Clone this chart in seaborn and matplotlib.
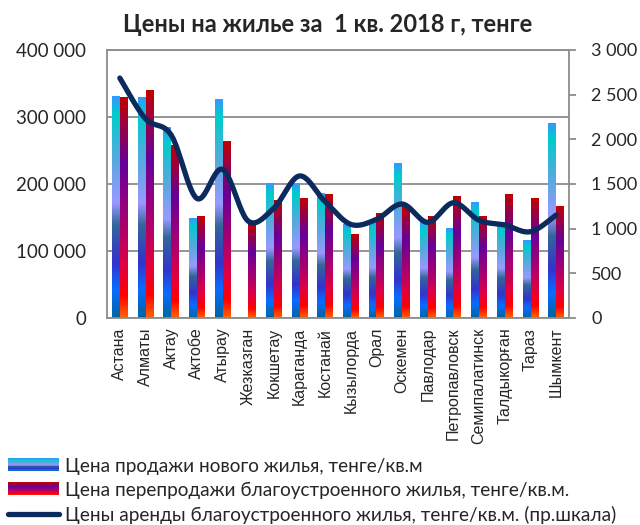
import numpy as np
import pandas as pd
import matplotlib
matplotlib.use("Agg")
import matplotlib.pyplot as plt
import seaborn as sns
from matplotlib.colors import LinearSegmentedColormap, to_rgba
from matplotlib.legend_handler import HandlerBase
from matplotlib.patches import Rectangle, Patch
from matplotlib.lines import Line2D
from matplotlib.ticker import FuncFormatter, MultipleLocator

# ==========================================
# DATA
# ==========================================
cities = ['Астана', 'Алматы', 'Актау', 'Актобе', 'Атырау', 'Жезказган', 'Кокшетау',
          'Караганда', 'Костанай', 'Кызылорда', 'Орал', 'Оскемен', 'Павлодар',
          'Петропавловск', 'Семипалатинск', 'Талдыкорған', 'Тараз', 'Шымкент']
new_price = [331000, 329000, 285000, 149000, 326000, 0, 200000, 201000, 186000,
             140000, 144000, 231000, 143000, 134000, 173000, 142000, 116000, 291000]
resale_price = [329000, 340000, 257000, 152000, 263000, 141000, 176000, 179000, 184000,
                124000, 156000, 166000, 152000, 182000, 151000, 185000, 179000, 166000]
rent_price = [2686, 2230, 2048, 1339, 1664, 1085, 1230, 1590, 1302,
              1048, 1104, 1276, 1071, 1290, 1093, 1041, 966, 1153]

label_new = 'Цена продажи нового жилья, тенге/кв.м'
label_resale = 'Цена перепродажи благоустроенного жилья, тенге/кв.м.'
label_rent = 'Цены аренды благоустроенного жилья, тенге/кв.м. (пр.шкала)'
title = 'Цены на жилье за  1 кв. 2018 г, тенге'

# ==========================================
# STYLE
# ==========================================
sns.set_style('white')
plt.rcParams['font.family'] = ['Lato', 'DejaVu Sans']

GRID = '#8C8C8C'
NAVY = '#0B2A5E'
blue_stops = [(0.0, '#3399FF'), (0.08, '#00CCCC'), (0.28, '#55AADD'), (0.48, '#9999FF'),
              (0.58, '#336699'), (0.75, '#3333CC'), (0.87, '#0A6CFF'), (1.0, '#0064A0')]
red_stops = [(0.0, '#C00000'), (0.3, '#660099'), (0.6, '#B0006A'), (0.76, '#E00040'),
             (0.9, '#FF0000'), (1.0, '#FF6600')]
cmap_blue = LinearSegmentedColormap.from_list('b', blue_stops)
cmap_red = LinearSegmentedColormap.from_list('r', red_stops)


def smooth_curve(xs, ys, n=24):
    """Excel-like smoothed line (cubic Bezier through the points)."""
    pts = np.column_stack([xs, ys]).astype(float)
    P = np.vstack([pts[0], pts, pts[-1]])
    t = np.linspace(0, 1, n, endpoint=False)[:, None]
    out = []
    for i in range(1, len(P) - 2):
        p0, p1, p2, p3 = P[i - 1], P[i], P[i + 1], P[i + 2]
        c1 = p1 + (p2 - p0) / 6
        c2 = p2 - (p3 - p1) / 6
        out.append((1 - t) ** 3 * p1 + 3 * (1 - t) ** 2 * t * c1
                   + 3 * (1 - t) * t ** 2 * c2 + t ** 3 * p2)
    out.append(pts[-1:])
    return np.vstack(out)


class GradientHandler(HandlerBase):
    def __init__(self, cmap):
        super().__init__()
        self.cmap = cmap

    def create_artists(self, legend, orig_handle, xdescent, ydescent, width,
                       height, fontsize, trans):
        n = 30
        arts = []
        for i in range(n):
            arts.append(Rectangle((-xdescent, -ydescent + height * i / n), width,
                                  height / n + 0.3, facecolor=self.cmap(1 - (i + 0.5) / n),
                                  edgecolor='none', transform=trans))
        return arts


# ==========================================
# PLOT
# ==========================================
df = pd.DataFrame({
    'city': cities * 2,
    'value': new_price + resale_price,
    'series': [label_new] * len(cities) + [label_resale] * len(cities),
})

fig = plt.figure(figsize=(6.4, 5.25), dpi=100)
ax = fig.add_axes([107 / 640, 1 - 318 / 525, 462 / 640, 268 / 525])

palette = {label_new: '#0000FF', label_resale: '#FF0000'}
sns.barplot(data=df, x='city', y='value', hue='series', palette=palette,
            width=0.62, dodge=True, ax=ax, legend=False, saturation=1)

blue_rgba = to_rgba('#0000FF')
grad = np.linspace(1, 0, 256).reshape(-1, 1)
for p in list(ax.patches):
    x0, w, h = p.get_x(), p.get_width(), p.get_height()
    if h <= 0:
        p.set_visible(False)
        continue
    cm = cmap_blue if np.allclose(p.get_facecolor(), blue_rgba) else cmap_red
    ax.imshow(grad, cmap=cm, extent=[x0, x0 + w, 0, h], aspect='auto',
              origin='lower', zorder=2, interpolation='bilinear')
    p.set_visible(False)

ax.set_xlim(-0.5, len(cities) - 0.5)
ax.set_ylim(0, 400000)
ax.yaxis.set_major_locator(MultipleLocator(100000))
ax.yaxis.set_major_formatter(FuncFormatter(lambda v, _: f'{int(v):,}'.replace(',', ' ')))
ax.grid(axis='y', color=GRID, lw=1.3)
ax.set_axisbelow(True)
ax.set_xlabel('')
ax.set_ylabel('')
ax.tick_params(axis='y', length=0, pad=15, labelsize=13.5)
ax.tick_params(axis='x', length=0, pad=7)
for lbl in ax.get_xticklabels():
    lbl.set_rotation(90)
    lbl.set_fontfamily('Liberation Sans')
    lbl.set_fontsize(11.5)
for side in ['left', 'bottom', 'top']:
    ax.spines[side].set_color(GRID)
    ax.spines[side].set_linewidth(1.3)
ax.spines['right'].set_visible(False)

ax2 = ax.twinx()
curve = smooth_curve(np.arange(len(cities)), rent_price)
ax2.plot(curve[:, 0], curve[:, 1], color=NAVY, lw=3.8, solid_capstyle='round',
         solid_joinstyle='round', zorder=5)
ax2.set_ylim(0, 3000)
ax2.yaxis.set_major_locator(MultipleLocator(500))
ax2.yaxis.set_major_formatter(FuncFormatter(lambda v, _: f'{int(v):,}'.replace(',', ' ')))
ax2.tick_params(axis='y', direction='out', length=5, width=1.3, color=GRID,
                pad=11, labelsize=13)
for side in ['left', 'bottom', 'top']:
    ax2.spines[side].set_visible(False)
ax2.spines['right'].set_color(GRID)
ax2.spines['right'].set_linewidth(1.3)
ax2.grid(False)

fig.text(0.512, 1 - 24 / 525, title, ha='center', va='center',
         fontsize=17, fontweight='bold')

h_new = Patch(label=label_new)
h_resale = Patch(label=label_resale)
h_rent = Line2D([], [], color=NAVY, lw=3.8, solid_capstyle='round', label=label_rent)
fig.legend(handles=[h_new, h_resale, h_rent], loc='upper left',
           bbox_to_anchor=(4 / 640, 1 - 454 / 525), frameon=False, fontsize=13.7,
           handlelength=2.7, handleheight=0.65, handletextpad=0.3, labelspacing=0.36,
           borderaxespad=0, borderpad=0.2,
           handler_map={h_new: GradientHandler(cmap_blue),
                        h_resale: GradientHandler(cmap_red)})

fig.savefig('out.png', dpi=100)
